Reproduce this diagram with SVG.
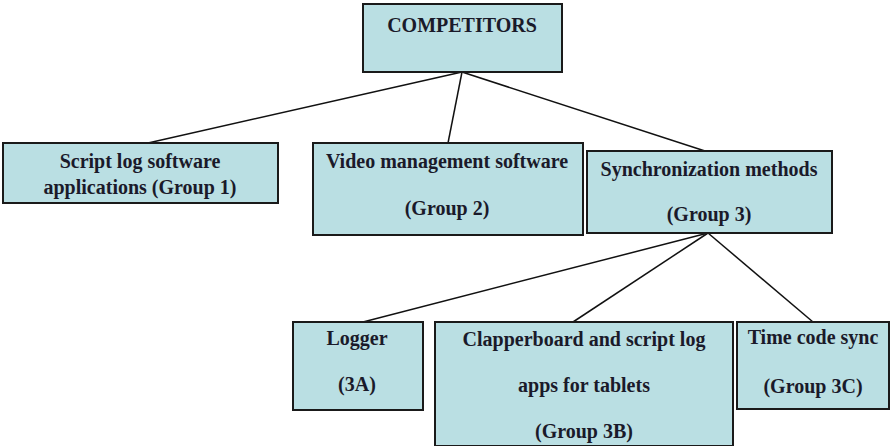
<svg xmlns="http://www.w3.org/2000/svg" width="893" height="446" viewBox="0 0 893 446">
  <style>
    .box { fill: #badfe3; stroke: #1a1a1a; stroke-width: 2; }
    .lbl { font-weight: bold; font-size: 20px; fill: #1a1a2a; text-anchor: middle; }
    .edge { stroke: #111; stroke-width: 1.5; fill: none; }
  </style>
  <rect width="893" height="446" fill="#ffffff"/>

  <g id="connectors">
    <line class="edge" x1="462" y1="72" x2="148" y2="143"/>
    <line class="edge" x1="462" y1="72" x2="448" y2="143"/>
    <line class="edge" x1="462" y1="72" x2="705" y2="151"/>
    <line class="edge" x1="708" y1="233" x2="363" y2="322"/>
    <line class="edge" x1="708" y1="233" x2="573" y2="322"/>
    <line class="edge" x1="708" y1="233" x2="813" y2="322"/>
  </g>

  <g font-family="'Liberation Serif', 'DejaVu Serif', serif">
  <g id="competitors">
    <rect class="box" x="363" y="4" width="199" height="68"/>
    <text class="lbl" x="462" y="32">COMPETITORS</text>
  </g>

  <g id="group1">
    <rect class="box" x="3" y="143" width="275" height="60"/>
    <text class="lbl" x="140" y="168">Script log software</text>
    <text class="lbl" x="140" y="194">applications (Group 1)</text>
  </g>

  <g id="group2">
    <rect class="box" x="313" y="143" width="270" height="92"/>
    <text class="lbl" x="447" y="168">Video management software</text>
    <text class="lbl" x="447" y="215">(Group 2)</text>
  </g>

  <g id="group3">
    <rect class="box" x="587" y="151" width="245" height="82"/>
    <text class="lbl" x="709" y="176">Synchronization methods</text>
    <text class="lbl" x="709" y="221">(Group 3)</text>
  </g>

  <g id="group3a">
    <rect class="box" x="293" y="322" width="130" height="88"/>
    <text class="lbl" x="357" y="345">Logger</text>
    <text class="lbl" x="357" y="391">(3A)</text>
  </g>

  <g id="group3b">
    <rect class="box" x="435" y="322" width="298" height="124"/>
    <text class="lbl" x="584" y="346">Clapperboard and script log</text>
    <text class="lbl" x="584" y="392">apps for tablets</text>
    <text class="lbl" x="584" y="438">(Group 3B)</text>
  </g>

  <g id="group3c">
    <rect class="box" x="737" y="322" width="152" height="87"/>
    <text class="lbl" x="813" y="344">Time code sync</text>
    <text class="lbl" x="813" y="393">(Group 3C)</text>
  </g>
  </g>
</svg>
